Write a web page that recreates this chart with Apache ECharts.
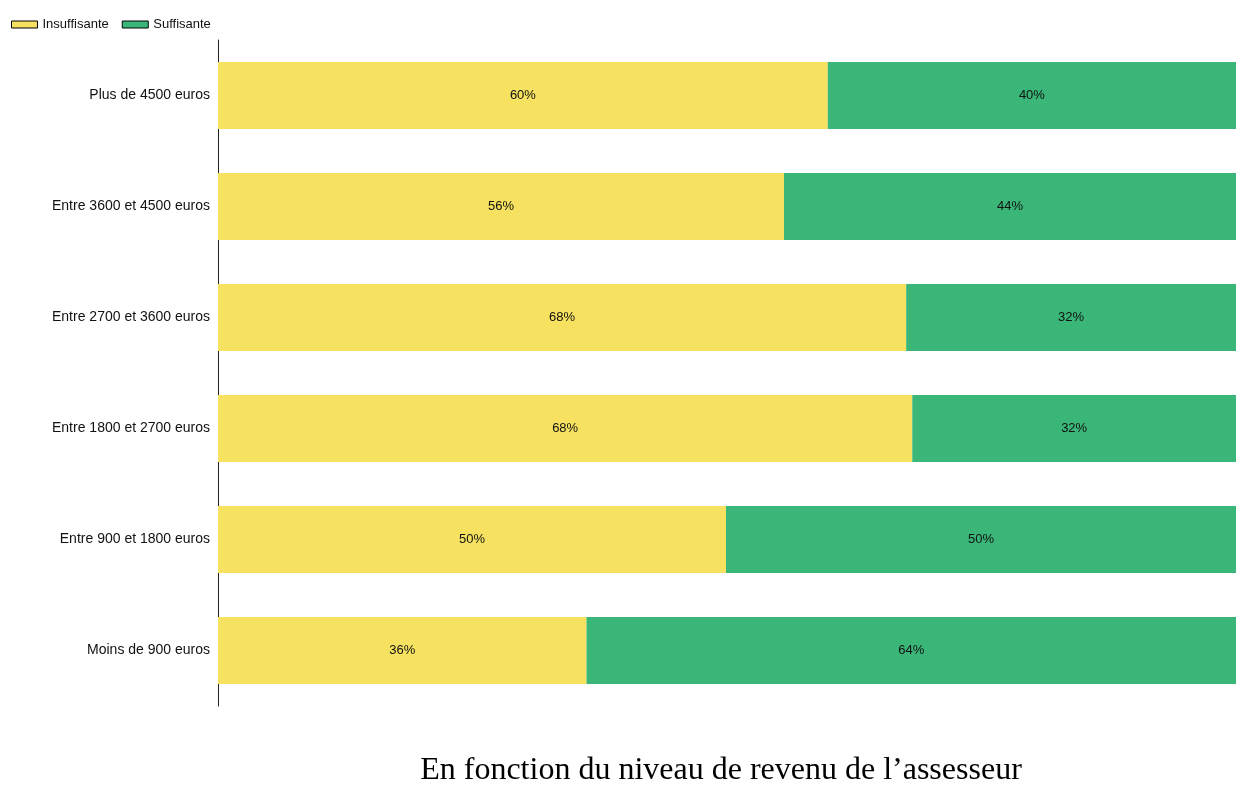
<!DOCTYPE html>
<html>
<head>
<meta charset="utf-8">
<script src="https://cdn.jsdelivr.net/npm/echarts@6/dist/echarts.min.js"></script>
<style>
  html, body { margin: 0; padding: 0; background: #fff; }
  #chart { width: 1240px; height: 787px; }
</style>
</head>
<body>
<div id="chart"></div>
<script>
// catégories (de haut en bas)
const categories = [
  'Plus de 4500 euros',
  'Entre 3600 et 4500 euros',
  'Entre 2700 et 3600 euros',
  'Entre 1800 et 2700 euros',
  'Entre 900 et 1800 euros',
  'Moins de 900 euros'
]
const insuffisante = [59.9, 55.6, 67.6, 68.2, 49.9, 36.2]
const suffisante = [40.1, 44.4, 32.4, 31.8, 50.1, 63.8]

const chart = echarts.init(document.getElementById('chart'))

const labelStyle = {
  show: true,
  position: 'inside',
  color: '#111',
  fontSize: 13,
  fontFamily: 'Liberation Sans, Arial, sans-serif',
  formatter: p => Math.round(p.value) + '%'
}

const option = {
  backgroundColor: '#fff',
  animation: false,
  title: {
    text: 'En fonction du niveau de revenu de l\u2019assesseur',
    left: 716,
    textAlign: 'center',
    top: 750,
    textStyle: {
      fontFamily: 'Liberation Serif, Times New Roman, serif',
      fontWeight: 'normal',
      fontSize: 32,
      color: '#000'
    }
  },
  legend: {
    left: 6,
    top: 13,
    icon: 'rect',
    itemWidth: 26,
    itemHeight: 7,
    itemGap: 13,
    textStyle: {
      fontSize: 13,
      fontFamily: 'Liberation Sans, Arial, sans-serif',
      color: '#111'
    },
    data: [
      { name: 'Insuffisante', itemStyle: { borderColor: '#000', borderWidth: 1 } },
      { name: 'Suffisante', itemStyle: { borderColor: '#000', borderWidth: 1 } }
    ]
  },
  grid: {
    left: 218,
    right: 4,
    top: 40,
    height: 666
  },
  xAxis: {
    type: 'value',
    min: 0,
    max: 100,
    show: false
  },
  yAxis: {
    type: 'category',
    data: categories,
    inverse: true,
    axisLine: { show: true, lineStyle: { color: '#222', width: 1 } },
    axisTick: { show: false },
    axisLabel: {
      fontSize: 14,
      fontFamily: 'Liberation Sans, Arial, sans-serif',
      color: '#111',
      margin: 8
    }
  },
  series: [
    {
      name: 'Insuffisante',
      type: 'bar',
      stack: 'total',
      barWidth: 67,
      data: insuffisante,
      itemStyle: { color: '#f6e260' },
      label: labelStyle
    },
    {
      name: 'Suffisante',
      type: 'bar',
      stack: 'total',
      barWidth: 67,
      data: suffisante,
      itemStyle: { color: '#3ab778' },
      label: labelStyle
    }
  ]
}

chart.setOption(option)
</script>
</body>
</html>
